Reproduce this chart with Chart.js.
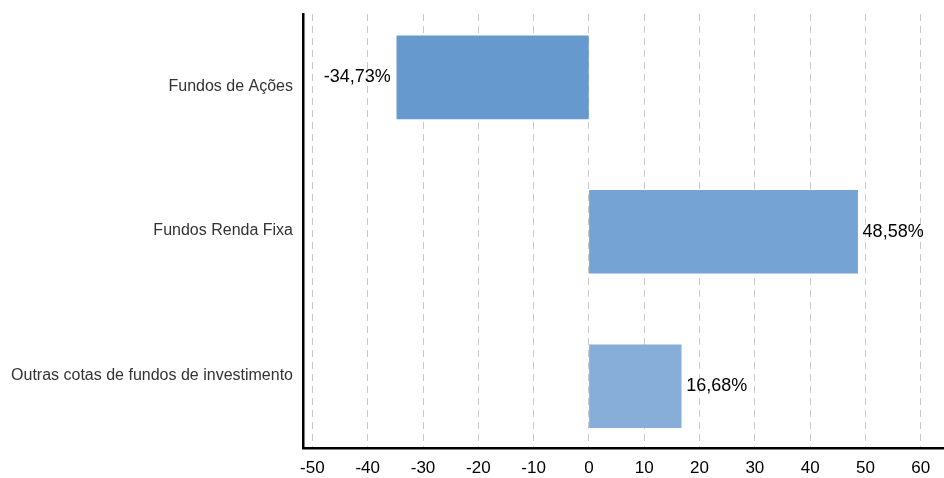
<script src="https://cdn.jsdelivr.net/npm/chart.js@4.4.0/dist/chart.umd.min.js"></script>
<style>
  body { margin: 0; background: #fff; }
  #wrap { width: 944px; height: 478px; }
</style>
<div id="wrap"><canvas id="bar-chart"></canvas></div>
<script>
var categories = ['Fundos de Ações', 'Fundos Renda Fixa', 'Outras cotas de fundos de investimento'];
var values = [-34.73, 48.58, 16.68];
var colors = ['#6699cd', '#75a4d4', '#86aed8'];

function fmt(v) {
  return v.toFixed(2).replace('.', ',') + '%';
}

// value labels at the end of each bar
var labelPlugin = {
  id: 'valueLabels',
  afterDatasetsDraw: function(chart) {
    var ctx = chart.ctx;
    var meta = chart.getDatasetMeta(0);
    ctx.save();
    ctx.font = '18px "Liberation Sans", Arial, sans-serif';
    ctx.fillStyle = '#000';
    ctx.textBaseline = 'middle';
    meta.data.forEach(function(bar, i) {
      var v = values[i];
      if (v < 0) {
        ctx.textAlign = 'right';
        ctx.fillText(fmt(v), bar.x - 6, bar.y);
      } else {
        ctx.textAlign = 'left';
        ctx.fillText(fmt(v), bar.x + 5, bar.y);
      }
    });
    ctx.restore();
  }
};

new Chart(document.getElementById('bar-chart'), {
  type: 'bar',
  data: {
    datasets: [{
      data: values.map(function(v, i) { return { x: v, y: i }; }),
      backgroundColor: colors,
      borderWidth: 0,
      barThickness: 83
    }]
  },
  options: {
    indexAxis: 'y',
    responsive: true,
    maintainAspectRatio: false,
    animation: false,
    layout: { padding: { top: 14, right: 0, bottom: 0, left: 0 } },
    plugins: { legend: { display: false }, tooltip: { enabled: false } },
    scales: {
      x: {
        type: 'linear',
        min: -51.7,
        max: 64.2,
        ticks: {
          stepSize: 10,
          includeBounds: false,
          color: '#000',
          padding: 10,
          font: { family: '"Liberation Sans", Arial, sans-serif', size: 17 }
        },
        grid: {
          color: '#c8c8c8',
          lineWidth: 1,
          drawTicks: false
        },
        border: { display: true, color: '#000', width: 2.5, dash: [7, 5] },
        afterFit: function(s) { s.height = 30; s.paddingLeft = 0; s.paddingRight = 0; }
      },
      y: {
        type: 'linear',
        position: 'left',
        offset: false,
        min: -0.41,
        max: 2.4,
        reverse: true,
        ticks: { display: false, stepSize: 1 },
        grid: { display: false, drawTicks: false, offset: false },
        border: { display: true, color: '#000', width: 2.5 },
        afterFit: function(s) { s.width = 0; s.paddingTop = 0; s.paddingBottom = 0; }
      },
      // category labels sit on evenly split bands of the axis
      yLabels: {
        type: 'category',
        position: 'left',
        weight: 1,
        labels: categories,
        offset: true,
        ticks: {
          color: '#333',
          padding: 10,
          font: { family: '"Liberation Sans", Arial, sans-serif', size: 16 }
        },
        grid: { display: false, drawTicks: false },
        border: { display: false },
        afterFit: function(s) { s.width = 303; s.paddingTop = 0; s.paddingBottom = 0; }
      }
    }
  },
  plugins: [labelPlugin]
});
</script>
